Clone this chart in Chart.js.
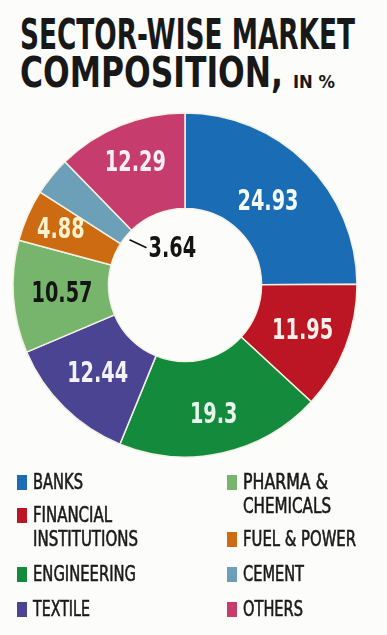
<!DOCTYPE html>
<html>
<head>
<meta charset="utf-8">
<script src="https://cdn.jsdelivr.net/npm/chart.js@4.4.0/dist/chart.umd.min.js"></script>
<style>
  html, body { margin:0; padding:0; background:#fcfcfa; }
  body { width:387px; height:635px; position:relative; overflow:hidden;
         font-family:"Liberation Sans Narrow","DejaVu Sans Condensed","DejaVu Sans",sans-serif; color:#1b1b1b; }
  .t { position:absolute; white-space:nowrap; line-height:1; transform-origin:0 0; }
  .title { font-weight:bold; font-size:42px; color:#181818; }
  .sub { font-weight:bold; font-size:18px; color:#181818; }
  .lg { position:absolute; font-size:22px; line-height:24px; white-space:nowrap; color:#1a1a1a; -webkit-text-stroke:0.6px #1a1a1a; }
  .lg span { display:block; transform-origin:0 0; width:max-content; }
  .mk { position:absolute; width:10px; height:15px; }
  #wrap { position:absolute; left:0; top:100px; width:370px; height:370px; }
</style>
</head>
<body>
<div class="t title" id="t1" data-w="335" style="left:20px; top:14px;">SECTOR-WISE MARKET</div>
<div class="t title" id="t2" data-w="263" style="left:20px; top:52px;">COMPOSITION,</div>
<div class="t sub" id="t3" data-w="42" style="left:293px; top:73px;">IN %</div>
<div id="wrap"><canvas id="c"></canvas></div>
<div id="legend"></div>
<script>
// ---- data ----
const categories = ['BANKS','FINANCIAL INSTITUTIONS','ENGINEERING','TEXTILE','PHARMA & CHEMICALS','FUEL & POWER','CEMENT','OTHERS'];
const legendLines = [['BANKS'],['FINANCIAL','INSTITUTIONS'],['ENGINEERING'],['TEXTILE'],['PHARMA &','CHEMICALS'],['FUEL & POWER'],['CEMENT'],['OTHERS']];
const values = [24.93, 11.95, 19.3, 12.44, 10.57, 4.88, 3.64, 12.29];
const valueLabels = ['24.93','11.95','19.3','12.44','10.57','4.88','3.64','12.29'];

// ---- styles ----
const colors = ['#1a6db4','#bc1524','#148a3d','#4a4492','#76b56b','#cd6b12','#6c9fb8','#c63c6c'];
const labelColors = ['#f4fbf6','#f6f0ea','#e8f6ee','#f2f2f8','#141414','#fbf3cf',null,'#f8f0f2'];
const labelFrac = [0.43,0.52,0.59,0.5,0.49,0.62,null,0.58];
const leaderOffset = {dx:17, dy:8};
const legendPos = [
  {x:17,y:470,w:[50]},{x:17,y:503,w:[79,105]},{x:17,y:562,w:[103]},{x:17,y:597,w:[57]},
  {x:227,y:470,w:[85,88]},{x:227,y:527,w:[113]},{x:227,y:562,w:[61]},{x:227,y:597,w:[60]}
];

// legend
const lg = document.getElementById('legend');
categories.forEach((c,i)=>{
  const p = legendPos[i];
  const mk = document.createElement('div');
  mk.className='mk'; mk.style.left=p.x+'px'; mk.style.top=(p.y+5)+'px'; mk.style.background=colors[i];
  lg.appendChild(mk);
  const d = document.createElement('div');
  d.className='lg'; d.style.left=(p.x+16)+'px'; d.style.top=p.y+'px';
  legendLines[i].forEach((ln,j)=>{
    const s=document.createElement('span'); s.textContent=ln; s.dataset.w=p.w[j]; d.appendChild(s);
  });
  lg.appendChild(d);
});
function fit(el){ const w=el.getBoundingClientRect().width; const target=+el.dataset.w; if(w>0&&target) el.style.transform='scaleX('+(target/w)+')'; }
document.querySelectorAll('.t').forEach(fit);
document.querySelectorAll('.lg span').forEach(fit);

const labelPlugin = {
  id:'sliceLabels',
  afterDatasetsDraw(chart){
    const ctx = chart.ctx;
    const meta = chart.getDatasetMeta(0);
    const font = 'bold 28px "Liberation Sans Narrow","DejaVu Sans Condensed","DejaVu Sans",sans-serif';
    ctx.save(); ctx.font = font;
    const sx = 61 / ctx.measureText('24.93').width;
    ctx.restore();
    meta.data.forEach((arc,i)=>{
      const p = arc.getProps(['x','y','startAngle','endAngle','innerRadius','outerRadius'], true);
      const mid = (p.startAngle+p.endAngle)/2;
      ctx.save();
      ctx.font = font;
      ctx.textBaseline='middle';
      if (labelFrac[i] !== null) {
        const r = p.innerRadius + (p.outerRadius-p.innerRadius)*labelFrac[i];
        const x = p.x + r*Math.cos(mid), y = p.y + r*Math.sin(mid);
        ctx.translate(x, y); ctx.scale(sx, 1);
        ctx.fillStyle = labelColors[i];
        ctx.textAlign='center';
        ctx.fillText(valueLabels[i], 0, 1);
      } else {
        const r1 = p.innerRadius-5;
        const x1 = p.x + r1*Math.cos(mid), y1 = p.y + r1*Math.sin(mid);
        const x2 = x1 + leaderOffset.dx, y2 = y1 + leaderOffset.dy;
        ctx.strokeStyle='#111'; ctx.lineWidth=1.6;
        ctx.beginPath(); ctx.moveTo(x1,y1); ctx.lineTo(x2,y2); ctx.stroke();
        ctx.translate(x2+2, y2+1); ctx.scale(sx, 1);
        ctx.fillStyle='#141414'; ctx.textAlign='left';
        ctx.fillText(valueLabels[i], 0, 1);
      }
      ctx.restore();
    });
  }
};

new Chart(document.getElementById('c'), {
  type:'doughnut',
  data:{ labels:categories, datasets:[{ data:values, backgroundColor:colors, borderColor:'#f3f1e4', borderWidth:1.5 }]},
  options:{
    responsive:true, maintainAspectRatio:false, animation:false,
    radius:172, cutout:82,
    layout:{padding:0},
    plugins:{ legend:{display:false}, tooltip:{enabled:false} }
  },
  plugins:[labelPlugin]
});
</script>
</body>
</html>
